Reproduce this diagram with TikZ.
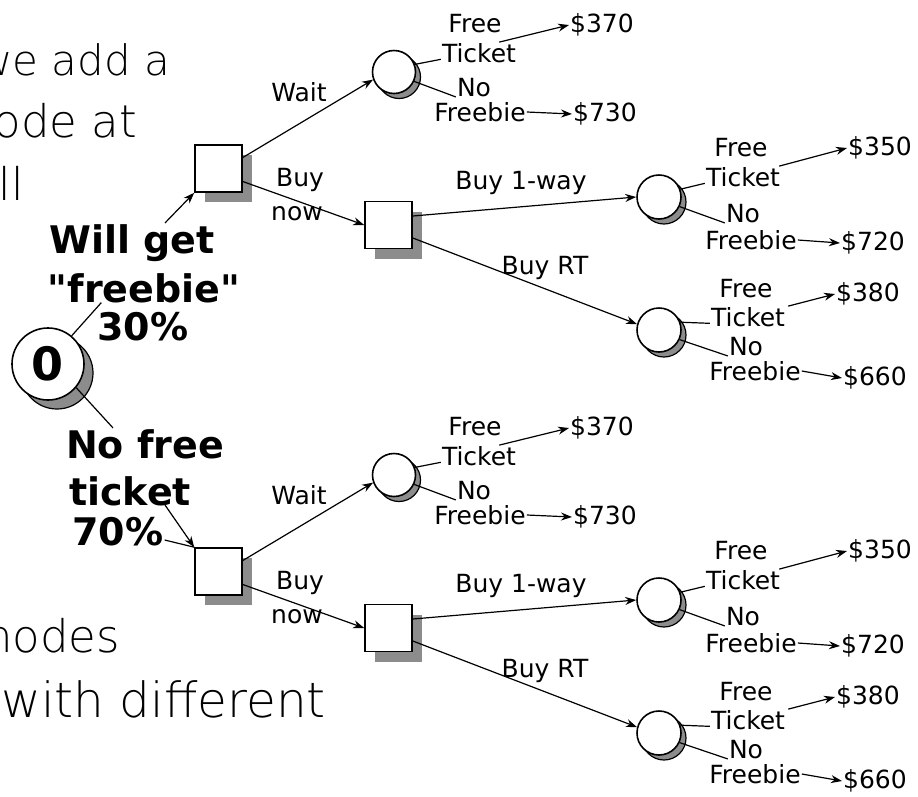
\documentclass[tikz,border=0pt]{standalone}
\usepackage{fontspec}
\setmainfont{DejaVu Sans}
\newfontfamily\thinfont{DejaVu Sans ExtraLight}
\usetikzlibrary{arrows.meta,shadows,calc}

\newcommand\straightquote{{\XeTeXglyph\XeTeXglyphindex "quotedbl"\relax}}

\tikzset{
 dec/.style={draw, line width=1.6pt, fill=white, minimum size=47pt, inner sep=0pt,
   drop shadow={shadow xshift=10pt, shadow yshift=-10pt, fill=black!45, opacity=1}},
 chn/.style={circle, draw, line width=1.6pt, fill=white, minimum size=43pt, inner sep=0pt,
   drop shadow={shadow xshift=5pt, shadow yshift=-5pt, fill=black!45, draw=black, line width=1.2pt, opacity=1}},
 lab/.style={font=\fontsize{25}{28}\selectfont, inner sep=1pt},
 bigtext/.style={font=\thinfont\fontsize{45}{50}\selectfont, inner sep=0pt, anchor=base east},
 boldlab/.style={font=\bfseries\fontsize{38}{40}\selectfont, inner sep=1pt, anchor=base},
 con/.style={line width=1.2pt},
 arr/.style={con, -{Stealth[length=11pt,width=8pt]}},
}

\newcommand\halftree{%
 \node[dec] (sqA) at (218.5,168.5) {};
 \node[dec] (sqB) at (388.5,225) {};
 \node[chn] (cW) at (394,72) {};
 \node[chn,minimum size=44pt] (cB) at (659,197) {};
 \node[chn,minimum size=44pt] (cR) at (659,330) {};
 \node[lab] (wait) at (299,92) {Wait};
 \node[lab] (buy) at (300,180) {Buy};
 \node[lab] (now) at (297,214) {now};
 \node[lab] (b1) at (521,183) {Buy 1-way};
 \node[lab] (rt) at (545,268) {Buy RT};
 \draw[arr] ([yshift=11pt]sqA.east) -- (cW.200);
 \draw[arr] ([yshift=-13pt]sqA.east) -- (sqB.west);
 \draw[arr] ([yshift=9pt]sqB.east) -- (cB.west);
 \draw[arr] ([yshift=-13pt]sqB.east) -- (cR.165);
 % outcomes of Wait
 \node[lab] (wF) at (475,24) {Free};
 \node[lab] (wT) at (479,53) {Ticket};
 \node[lab] (wN) at (474,88) {No};
 \node[lab] (wB) at (480,112) {Freebie};
 \node[lab] (wP) at (602,25) {\$370};
 \node[lab] (wQ) at (605,114) {\$730};
 \draw[con] (cW.20) -- ([yshift=3pt]wT.base west);
 \draw[arr] ([xshift=-18pt]wT.north east) -- (wP.west);
 \draw[con] (cW.-25) -- (wN.base west);
 \draw[arr] (wB.east) -- (wQ.west);
 % outcomes of Buy 1-way
 \node[lab] (bF) at (741,148) {Free};
 \node[lab] (bT) at (743,177) {Ticket};
 \node[lab] (bN) at (743,214) {No};
 \node[lab] (bB) at (751,240) {Freebie};
 \node[lab] (bP) at (880,148) {\$350};
 \node[lab] (bQ) at (873,243) {\$720};
 \draw[con] (cB.20) -- ([yshift=3pt]bT.base west);
 \draw[arr] ([xshift=-2pt]bT.north east) -- (bP.west);
 \draw[con] (cB.-25) -- (bN.base west);
 \draw[arr] (bB.east) -- (bQ.west);
 % outcomes of Buy RT
 \node[lab] (rF) at (746,289) {Free};
 \node[lab] (rT) at (748,317) {Ticket};
 \node[lab] (rN) at (746,347) {No};
 \node[lab] (rB) at (755,371) {Freebie};
 \node[lab] (rP) at (868,294) {\$380};
 \node[lab] (rQ) at (875,378) {\$660};
 \draw[con] (cR.20) -- ([yshift=3pt]rT.base west);
 \draw[arr] ([xshift=2pt]rT.north east) -- (rP.west);
 \draw[con] (cR.-25) -- (rN.base west);
 \draw[arr] (rB.east) -- (rQ.west);
}

\begin{document}
\begin{tikzpicture}[x=1pt,y=-1pt]
\useasboundingbox[fill=white] (0,0) rectangle (918,796);
% background text (partly hidden)
\node[bigtext, font=\thinfont\fontsize{42}{50}\selectfont] (t1) at (170,75) {we add a};
\node[bigtext] (t2) at (137,137) {node at};
\node[bigtext] (t3) at (24,200) {all};
\node[bigtext] (t4) at (120,652) {nodes};
\node[bigtext, font=\thinfont\fontsize{48.5}{50}\selectfont] (t5) at (326,717) {with different};

\begin{scope}[name prefix=t-]
 \halftree
\end{scope}
\begin{scope}[yshift=-403pt, name prefix=b-]
 \halftree
\end{scope}

% root chance node
\node[circle, draw, line width=1.6pt, fill=white, minimum size=72pt, inner sep=0pt,
  drop shadow={shadow xshift=9pt, shadow yshift=-9pt, fill=black!45, draw=black, line width=1.2pt, opacity=1},
  font=\bfseries\fontsize{46}{46}\selectfont] (chance) at (48,364) {0};

\node[boldlab] (w1) at (132,253) {Will get};
\node[boldlab] (w2) at (144,302) {\straightquote freebie\straightquote};
\node[boldlab] (w3) at (143,340) {30\%};
\node[boldlab] (n1) at (145,458) {No free};
\node[boldlab] (n2) at (130,505) {ticket};
\node[boldlab] (n3) at (118,545) {70\%};

\draw[con] (chance.50) -- ([shift={(5pt,8pt)}]w3.north west);
\draw[arr] ([xshift=33pt]w1.north) -- (t-sqA.south west);
\draw[con] (chance.-40) -- ([xshift=-32pt]n1.north);
\draw[arr] ([xshift=35pt]n2.base) -- (b-sqA.north west);
\draw[con] ([yshift=5pt]n3.base east) -- (b-sqA.north west);
\end{tikzpicture}
\end{document}
